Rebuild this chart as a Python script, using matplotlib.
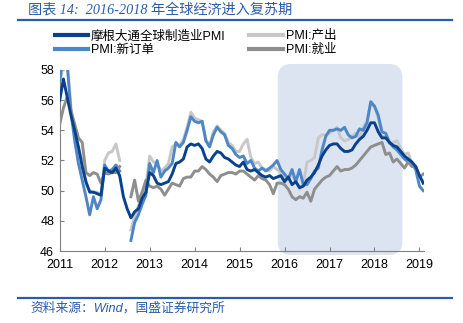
import numpy as np
import matplotlib.pyplot as plt
from matplotlib.patches import FancyBboxPatch
from matplotlib.lines import Line2D

plt.rcParams['font.family'] = ['Liberation Sans', 'Noto Sans CJK SC']

nan = np.nan
# monthly, Jan 2011 - Feb 2019
pmi = [56.0, 57.4, 56.2, 55.0, 54.0, 52.9, 51.6, 50.6, 49.9, 49.9, 49.8, 49.7,
       51.5, 51.3, 51.2, 51.5, 51.0, 49.6, 48.8, 48.2, 48.6, 48.8, 49.5, 49.9,
       51.2, 51.0, 50.5, 50.4, 50.5, 50.6, 51.1, 51.8, 51.9, 52.1, 52.9, 53.1,
       53.0, 53.1, 52.8, 52.1, 51.9, 52.3, 52.6, 52.5, 52.2, 52.1, 51.9, 51.7,
       51.6, 51.9, 51.4, 51.3, 51.4, 51.2, 51.0, 50.9, 51.0, 50.8, 50.9, 51.0,
       50.6, 50.9, 50.4, 50.6, 50.2, 50.3, 50.7, 50.9, 51.2, 51.7, 52.3, 52.7,
       53.0, 53.1, 53.1, 52.8, 52.6, 52.6, 52.7, 53.1, 53.4, 53.6, 54.0, 54.5,
       54.5, 53.9, 53.5, 53.5, 53.2, 53.0, 52.9, 52.6, 52.3, 52.1, 51.9, 51.6,
       51.0, 50.5]
new_orders = [57.3, 59.0, 58.4, 55.2, 53.3, 51.8, 50.7, 49.6, 48.4, 49.6, 48.8, 49.4,
              51.7, 51.3, 51.4, 51.7, 51.3, nan, nan, 46.7, 47.9, 48.4, 49.1, 49.7,
              51.8, 51.2, 52.0, 50.9, 51.3, 51.5, 51.8, 53.2, 52.9, 53.2, 54.0, 54.9,
              54.6, 54.5, 54.6, 53.3, 52.9, 53.7, 54.2, 53.9, 53.7, 53.0, 52.8, 52.4,
              52.2, 52.3, 51.8, 52.0, 51.5, 51.3, 51.5, 51.3, 51.5, 51.7, 52.0, 51.4,
              51.1, 50.8, 51.4, 50.6, 51.4, 50.4, 50.4, 50.8, 51.3, 51.5, 52.7, 53.6,
              54.0, 54.0, 54.1, 54.0, 54.2, 53.7, 53.5, 53.6, 54.1, 54.0, 54.5, 55.9,
              55.6, 55.0, 53.9, 53.8, 53.2, 52.9, 52.7, 52.4, 52.1, 51.9, 51.8, 51.4,
              50.3, 50.0]
output = [57.0, 58.5, 58.5, 55.5, 53.8, 52.8, 52.0, 50.5, 50.0, 49.9, 49.9, 49.7,
          52.0, 52.5, 52.6, 53.1, 52.0, nan, nan, 47.4, 48.3, 49.0, 49.6, 50.3,
          52.3, 51.9, 51.8, 51.3, 51.5, 51.8, 52.9, 53.1, 53.0, 53.4, 54.2, 55.2,
          54.8, 54.7, 54.6, 53.4, 53.0, 53.9, 54.3, 54.0, 53.8, 53.2, 53.0, 52.6,
          52.6, 53.1, 53.4, 52.2, 51.8, 51.9, 51.5, 51.4, 51.3, 51.6, 51.4, 51.2,
          50.9, 50.8, 51.1, 50.6, 50.1, 50.4, 51.9, 52.0, 52.2, 53.5, 53.7, 53.7,
          53.8, 54.0, 54.2, 53.5, 53.3, 53.4, 53.6, 53.8, 53.5, 54.2, 54.6, 55.8,
          55.6, 54.8, 53.6, 53.6, 53.1, 53.2, 53.3, 52.8, 52.4, 52.5, 51.8, 51.5,
          51.0, 50.6]
employment = [54.4, 55.5, 56.2, 55.3, 54.4, 53.5, 53.2, 51.2, 51.0, 51.2, 51.1, 50.5,
              51.2, 51.1, 51.2, 51.2, 51.6, nan, nan, 49.6, 50.7, 49.3, 49.9, 50.7,
              50.3, 50.2, 50.3, 50.1, 49.7, 50.1, 50.5, 50.4, 50.3, 50.8, 50.9, 50.9,
              51.3, 51.3, 51.6, 51.4, 51.1, 50.9, 50.6, 51.0, 51.1, 51.2, 51.2, 51.1,
              51.3, 51.3, 51.1, 50.9, 50.7, 51.0, 50.8, 50.7, 50.4, 49.8, 50.5, 50.5,
              50.4, 50.1, 49.6, 49.4, 49.6, 49.5, 49.9, 49.3, 50.1, 50.4, 50.7, 50.9,
              51.0, 51.3, 51.6, 51.3, 51.4, 51.4, 51.5, 51.7, 52.0, 52.3, 52.6, 52.9,
              53.0, 53.1, 53.2, 52.4, 52.5, 51.9, 52.1, 51.8, 51.5, 51.9, 51.6, 51.6,
              50.9, 51.1]
labels = ['摩根大通全球制造业PMI', 'PMI:新订单', 'PMI:产出', 'PMI:就业']
years = list(range(2011, 2020))

x = 2011 + np.arange(len(pmi)) / 12

fig = plt.figure(figsize=(4.64, 3.23), dpi=100)
ax = fig.add_axes([0.1287, 0.2229, 0.785, 0.5604])

# shaded recovery period
box = FancyBboxPatch((2015.85, 45.74), 2018.62 - 2015.85, 58.4 - 45.74,
                     boxstyle='round,pad=0,rounding_size=0.3', mutation_aspect=2.98,
                     fc='#dbe4f0', ec='none', clip_on=False, zorder=0)
ax.add_patch(box)

c_pmi, c_new, c_out, c_emp = '#08428f', '#4f86c6', '#c8c8c8', '#8e8e8e'
ax.plot(x, output, color=c_out, lw=2.1, zorder=2)
ax.plot(x, new_orders, color=c_new, lw=2.1, zorder=3)
ax.plot(x, employment, color=c_emp, lw=2.1, zorder=4)
ax.plot(x, pmi, color=c_pmi, lw=2.1, zorder=5)

ax.set_xlim(2011, 2019.1)
ax.set_ylim(46, 58)
ax.set_xticks(years)
ax.set_xticklabels([str(y) for y in years])
ax.set_yticks(range(46, 59, 2))
for s in ['top', 'right']:
    ax.spines[s].set_visible(False)
for s in ['left', 'bottom']:
    ax.spines[s].set_color('#808080')
    ax.spines[s].set_linewidth(0.8)
ax.tick_params(axis='both', direction='in', length=3, color='#808080',
               labelsize=9, pad=4)
ax.tick_params(axis='x', pad=6)

handles = [Line2D([], [], color=c, lw=3) for c in (c_pmi, c_new, c_out, c_emp)]
fig.legend(handles, labels, ncol=2, loc='upper left', bbox_to_anchor=(0.118, 0.907),
           frameon=False, fontsize=9, handlelength=2.65, handletextpad=0.25,
           columnspacing=1.9, labelspacing=0.15, borderaxespad=0, borderpad=0)

blue = '#2a5caa'
fig.text(28 / 464, 1 - 10 / 323, '图表 14:  2016-2018 年全球经济进入复苏期',
         family=['Liberation Serif', 'Noto Sans CJK SC'], style='italic',
         fontsize=10.2, color=blue, va='center', ha='left')
fig.add_artist(Line2D([18 / 464, 452 / 464], [1 - 20 / 323, 1 - 20 / 323],
                      color=blue, lw=1.6))
fig.add_artist(Line2D([18 / 464, 452 / 464], [1 - 298 / 323, 1 - 298 / 323],
                      color=blue, lw=1.6))
fig.text(30 / 464, 1 - 308 / 323, '资料来源：Wind，国盛证券研究所',
         family=['Liberation Sans', 'Noto Sans CJK SC'], style='italic',
         fontsize=9.2, color=blue, va='center', ha='left')

fig.savefig('out.png', dpi=100)
